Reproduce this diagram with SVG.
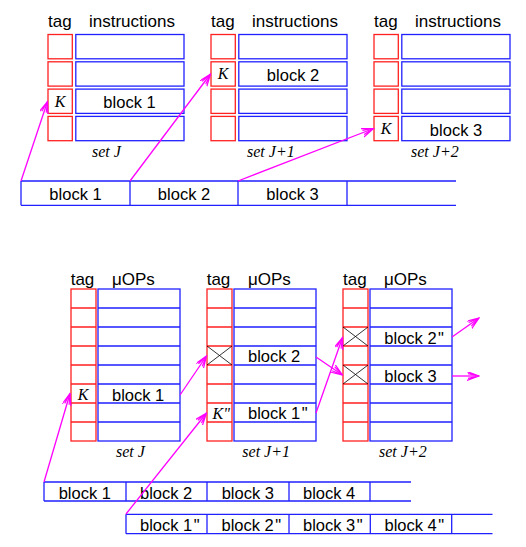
<svg xmlns="http://www.w3.org/2000/svg" width="526" height="547" viewBox="0 0 526 547">
<defs>
<marker id="arr" markerWidth="13" markerHeight="10" refX="12" refY="4.5" orient="auto" markerUnits="userSpaceOnUse">
<path d="M0,0 L12,4.5 L0,9 M1,2.2 L12,4.5 L1,6.8" fill="none" stroke="#ff00ff" stroke-width="1.2"/>
</marker>
</defs>
<style>
.tg{fill:#fff;stroke:#ff2020;stroke-width:1.3}
.in{fill:#fff;stroke:#2020ff;stroke-width:1.3}
.rl{stroke:#ff2020;stroke-width:1.3}
.bl{stroke:#2020ff;stroke-width:1.3;fill:none}
.x{stroke:#000;stroke-width:0.8}
.h{font-family:"Liberation Sans",Arial,sans-serif;font-size:17px;fill:#000}
.b{font-family:"Liberation Sans",Arial,sans-serif;font-size:16.5px;fill:#000}
.k{font-family:"Liberation Serif","Times New Roman",serif;font-style:italic;font-size:16px;fill:#000}
.s{font-family:"Liberation Serif","Times New Roman",serif;font-style:italic;font-size:16px;fill:#000}
.c{stroke:#ff00ff;stroke-width:1.3;fill:none;marker-end:url(#arr)}
.m{text-anchor:middle}
</style>
<rect width="526" height="547" fill="#fff"/>

<!-- top sets -->
<g id="setJ_top">
<text class="h" x="48" y="26.5">tag</text>
<text class="h" x="89" y="26.5">instructions</text>
<rect class="tg" x="48" y="34.5" width="24.3" height="24.3"/>
<rect class="tg" x="48" y="61.8" width="24.3" height="24.3"/>
<rect class="tg" x="48" y="89.1" width="24.3" height="24.3"/>
<rect class="tg" x="48" y="116.4" width="24.3" height="24.3"/>
<rect class="in" x="75.8" y="34.5" width="108.2" height="24.3"/>
<rect class="in" x="75.8" y="61.8" width="108.2" height="24.3"/>
<rect class="in" x="75.8" y="89.1" width="108.2" height="24.3"/>
<rect class="in" x="75.8" y="116.4" width="108.2" height="24.3"/>
<text class="k m" x="60" y="106.5">K</text>
<text class="b m" x="129.5" y="108.3">block 1</text>
<text class="s" x="92" y="156.5">set J</text>
</g>
<g id="setJ1_top">
<text class="h" x="211" y="26.5">tag</text>
<text class="h" x="252" y="26.5">instructions</text>
<rect class="tg" x="211" y="34.5" width="24.3" height="24.3"/>
<rect class="tg" x="211" y="61.8" width="24.3" height="24.3"/>
<rect class="tg" x="211" y="89.1" width="24.3" height="24.3"/>
<rect class="tg" x="211" y="116.4" width="24.3" height="24.3"/>
<rect class="in" x="238.8" y="34.5" width="108.2" height="24.3"/>
<rect class="in" x="238.8" y="61.8" width="108.2" height="24.3"/>
<rect class="in" x="238.8" y="89.1" width="108.2" height="24.3"/>
<rect class="in" x="238.8" y="116.4" width="108.2" height="24.3"/>
<text class="k m" x="223" y="79.2">K</text>
<text class="b m" x="293" y="81">block 2</text>
<text class="s" x="247" y="156.5">set J+1</text>
</g>
<g id="setJ2_top">
<text class="h" x="374" y="26.5">tag</text>
<text class="h" x="415" y="26.5">instructions</text>
<rect class="tg" x="374" y="34.5" width="24.3" height="24.3"/>
<rect class="tg" x="374" y="61.8" width="24.3" height="24.3"/>
<rect class="tg" x="374" y="89.1" width="24.3" height="24.3"/>
<rect class="tg" x="374" y="116.4" width="24.3" height="24.3"/>
<rect class="in" x="401.8" y="34.5" width="108.2" height="24.3"/>
<rect class="in" x="401.8" y="61.8" width="108.2" height="24.3"/>
<rect class="in" x="401.8" y="89.1" width="108.2" height="24.3"/>
<rect class="in" x="401.8" y="116.4" width="108.2" height="24.3"/>
<text class="k m" x="386" y="133.8">K</text>
<text class="b m" x="456" y="135.6">block 3</text>
<text class="s" x="411" y="156.5">set J+2</text>
</g>

<!-- top memory -->
<g id="mem_top">
<path class="bl" d="M21,181 H456 M21,205.3 H456 M21,181 V205.3 M130,181 V205.3 M238,181 V205.3 M347,181 V205.3"/>
<text class="b m" x="75.5" y="200">block 1</text>
<text class="b m" x="184" y="200">block 2</text>
<text class="b m" x="292.5" y="200">block 3</text>
</g>

<!-- bottom sets -->
<g id="setJ_bot">
<text class="h" x="70.7" y="285">tag</text>
<text class="h" x="112" y="285">μOPs</text>
<rect class="tg" x="71" y="289" width="25" height="152"/>
<path class="rl" d="M71,308H96M71,327H96M71,346H96M71,365H96M71,384H96M71,403H96M71,422H96"/>
<rect class="in" x="98" y="289" width="82" height="152"/>
<path class="bl" d="M98,308H180M98,327H180M98,346H180M98,365H180M98,384H180M98,403H180M98,422H180"/>
<text class="k m" x="83" y="400">K</text>
<text class="b" x="112" y="401">block 1</text>
<text class="s" x="116" y="456.5">set J</text>
</g>
<g id="setJ1_bot">
<text class="h" x="206.7" y="285">tag</text>
<text class="h" x="248" y="285">μOPs</text>
<rect class="tg" x="207" y="289" width="25" height="152"/>
<path class="rl" d="M207,308H232M207,327H232M207,346H232M207,365H232M207,384H232M207,403H232M207,422H232"/>
<path class="x" d="M207,346L232,365M232,346L207,365"/>
<rect class="in" x="234" y="289" width="82" height="152"/>
<path class="bl" d="M234,308H316M234,327H316M234,346H316M234,365H316M234,384H316M234,403H316M234,422H316"/>
<text class="k" x="212.5" y="419.3">K"</text>
<text class="b" x="248" y="362.3">block 2</text>
<text class="b" x="248" y="419.3">block 1<tspan dx="1.5">"</tspan></text>
<text class="s" x="242.3" y="456.5">set J+1</text>
</g>
<g id="setJ2_bot">
<text class="h" x="343" y="285">tag</text>
<text class="h" x="384" y="285">μOPs</text>
<rect class="tg" x="343" y="289" width="25" height="152"/>
<path class="rl" d="M343,308H368M343,327H368M343,346H368M343,365H368M343,384H368M343,403H368M343,422H368"/>
<path class="x" d="M343,327L368,346M368,327L343,346M343,365L368,384M368,365L343,384"/>
<rect class="in" x="370" y="289" width="82" height="152"/>
<path class="bl" d="M370,308H452M370,327H452M370,346H452M370,365H452M370,384H452M370,403H452M370,422H452"/>
<text class="b" x="384.3" y="343.5">block 2<tspan dx="1.5">"</tspan></text>
<text class="b" x="384.3" y="381.5">block 3</text>
<text class="s" x="379" y="456.5">set J+2</text>
</g>

<!-- bottom memories -->
<g id="mem_bot1">
<path class="bl" d="M44,482 H411 M44,501 H411 M44,482 V501 M126,482 V501 M207,482 V501 M289,482 V501 M370,482 V501"/>
<text class="b" x="58.7" y="498.7">block 1</text>
<text class="b" x="140" y="498.7">block 2</text>
<text class="b" x="221.7" y="498.7">block 3</text>
<text class="b" x="303" y="498.7">block 4</text>
</g>
<g id="mem_bot2">
<path class="bl" d="M126,514.3 H492.5 M126,533.7 H492.5 M126,514.3 V533.7 M207,514.3 V533.7 M289,514.3 V533.7 M370.3,514.3 V533.7 M451.7,514.3 V533.7"/>
<text class="b" x="140" y="530.7">block 1<tspan dx="1.5">"</tspan></text>
<text class="b" x="221.5" y="530.7">block 2<tspan dx="1.5">"</tspan></text>
<text class="b" x="303" y="530.7">block 3<tspan dx="1.5">"</tspan></text>
<text class="b" x="384.5" y="530.7">block 4<tspan dx="1.5">"</tspan></text>
</g>

<!-- connectors -->
<g id="connectors">
<path class="c" d="M21,181 L47.5,101.5"/>
<path class="c" d="M130,181 L210.5,74"/>
<path class="c" d="M238,181 L373.5,128.5"/>
<path class="c" d="M44,482 L70,393.5"/>
<path class="c" d="M180,395 L206.5,356"/>
<path class="c" d="M126,514 L206.5,413"/>
<path class="c" d="M316,357 L342.5,375"/>
<path class="c" d="M316,413 L342.5,337.5"/>
<path class="c" d="M452,337 L479,318"/>
<path class="c" d="M452,376 L479,376"/>
</g>
</svg>
